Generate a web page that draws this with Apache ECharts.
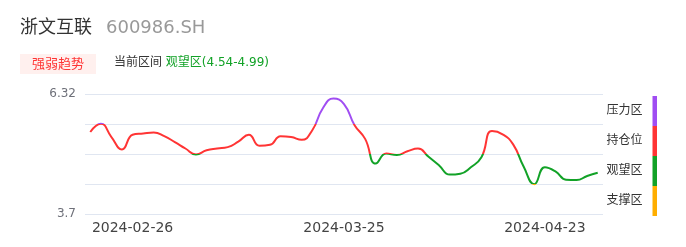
<!DOCTYPE html>
<html>
<head>
<meta charset="utf-8">
<script src="https://cdn.jsdelivr.net/npm/echarts@6/dist/echarts.min.js"></script>
<style>
html,body{margin:0;padding:0;background:#fff;}
#chart{width:686px;height:247px;}
</style>
</head>
<body>
<div id="chart"></div>
<script>
const stockName = '浙文互联';
const stockCode = '600986.SH';
const badgeText = '强弱趋势';
const currentLabel = '当前区间';
const currentZone = '观望区';
const currentRange = [4.54, 4.99];

const dates = [
  '2024-02-20','2024-02-21','2024-02-22','2024-02-23','2024-02-26','2024-02-27','2024-02-28','2024-02-29',
  '2024-03-01','2024-03-04','2024-03-05','2024-03-06','2024-03-07','2024-03-08','2024-03-11','2024-03-12',
  '2024-03-13','2024-03-14','2024-03-15','2024-03-18','2024-03-19','2024-03-20','2024-03-21','2024-03-22',
  '2024-03-25','2024-03-26','2024-03-27','2024-03-28','2024-03-29','2024-04-01','2024-04-02','2024-04-03',
  '2024-04-08','2024-04-09','2024-04-10','2024-04-11','2024-04-12','2024-04-15','2024-04-16','2024-04-17',
  '2024-04-18','2024-04-19','2024-04-22','2024-04-23','2024-04-24','2024-04-25','2024-04-26','2024-04-29',
  '2024-04-30'
];
const prices = [
  5.49,5.67,5.38,5.11,5.43,5.46,5.48,5.40,
  5.27,5.13,5.00,5.09,5.13,5.16,5.28,5.43,
  5.19,5.21,5.40,5.38,5.32,5.53,6.01,6.22,
  6.10,5.64,5.34,4.80,5.02,4.99,5.07,5.13,
  4.95,4.76,4.56,4.58,4.72,4.94,5.51,5.44,
  5.22,4.73,4.35,4.72,4.63,4.45,4.44,4.53,
  4.60
];
const xTickLabels = ['2024-02-26','2024-03-25','2024-04-23'];
const yTickLabels = ['6.32','3.7'];
const yMin = 3.7, yMax = 6.32, yStep = 0.655;
const zoneBounds = [4.355, 5.01, 5.665];
const zoneNames = ['支撑区','观望区','持仓位','压力区'];
const zoneColors = ['#ffae00','#12a227','#ff3434','#a04df2'];

const chart = echarts.init(document.getElementById('chart'), null, {renderer:'canvas'});
const font = 'DejaVu Sans, Noto Sans CJK SC, sans-serif';
const pieces = zoneNames.map((n, i) => {
  const p = {label: n, color: zoneColors[i]};
  if (i > 0) p.gte = zoneBounds[i - 1];
  if (i < zoneBounds.length) p.lt = zoneBounds[i];
  return p;
});
const option = {
  animation: false,
  textStyle: {fontFamily: font},
  title: [
    {text: stockName, left: 20, top: 19, padding: 0,
     textStyle: {fontSize: 18, fontWeight: 'normal', color: '#333', fontFamily: font}},
    {text: stockCode, left: 106, top: 19, padding: 0,
     textStyle: {fontSize: 18, fontWeight: 'normal', color: '#999', fontFamily: font}},
    {text: badgeText, left: 20, top: 54, padding: [4, 12, 3, 12], backgroundColor: '#fff0ee',
     textStyle: {fontSize: 13, fontWeight: 'normal', color: '#ff3434', fontFamily: font}},
    {text: '{a|' + currentLabel + '} {b|' + currentZone + '(' + currentRange[0].toFixed(2) + '-' + currentRange[1].toFixed(2) + ')}',
     left: 114, top: 57, padding: 0,
     textStyle: {fontFamily: font, fontWeight: 'normal', fontSize: 12, rich: {
       a: {fontSize: 12, color: '#333', fontWeight: 'normal', fontFamily: font},
       b: {fontSize: 12, color: '#12a227', fontWeight: 'normal', fontFamily: font}
     }}}
  ],
  grid: {left: 85, right: 83, top: 94, height: 120, containLabel: false},
  xAxis: {
    type: 'category', data: dates, boundaryGap: true,
    axisLine: {show: false}, axisTick: {show: false},
    axisLabel: {
      interval: (i, v) => xTickLabels.includes(v),
      color: '#444', fontSize: 14, margin: 7, fontFamily: font
    }
  },
  yAxis: {
    type: 'value', min: yMin, max: yMax, interval: yStep,
    axisLine: {show: false}, axisTick: {show: false},
    splitLine: {lineStyle: {color: '#e0e6f1', width: 1}},
    axisLabel: {
      color: '#6e7079', fontSize: 12, margin: 9, fontFamily: font,
      formatter: v => {
        const s = String(Math.round(v * 1000) / 1000);
        return yTickLabels.includes(s) ? s : '';
      }
    }
  },
  visualMap: {
    type: 'piecewise', seriesIndex: 0, dimension: 1,
    orient: 'vertical', align: 'right', right: 29, top: 96, padding: 0,
    itemWidth: 4.5, itemHeight: 30, itemGap: 0, textGap: 10,
    itemSymbol: 'rect', selectedMode: false, hoverLink: false,
    textStyle: {fontSize: 12, color: '#333', fontFamily: font},
    pieces: pieces
  },
  series: [{
    type: 'line', data: prices, smooth: true, showSymbol: false,
    lineStyle: {width: 2}
  }]
};
chart.setOption(option);
</script>
</body>
</html>
